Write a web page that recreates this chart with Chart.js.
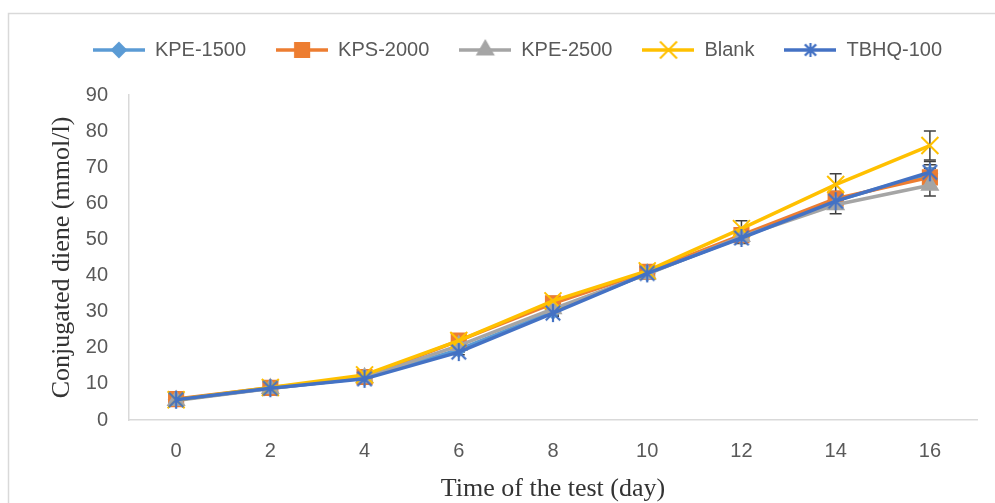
<!DOCTYPE html>
<html>
<head>
<meta charset="utf-8">
<script src="https://cdn.jsdelivr.net/npm/chart.js@4.4.1/dist/chart.umd.min.js"></script>
<style>
    html, body { margin: 0; padding: 0; background: #fff; }
    #wrap { width: 995px; height: 503px; }
</style>
</head>
<body>
<div id="wrap"><canvas id="cd-chart" width="995" height="503"></canvas></div>
<script>
// days of the test
const days = ['0', '2', '4', '6', '8', '10', '12', '14', '16'];

// conjugated diene (mmol/l) per series
const kpe1500 = [5.6, 8.8, 11.6, 19.5, 30.0, 40.6, 50.6, 60.8, 68.2];
const kps2000 = [5.8, 8.9, 11.9, 22.0, 32.3, 41.0, 51.2, 61.3, 67.2];
const kpe2500 = [5.4, 8.7, 11.7, 20.6, 30.8, 40.4, 50.8, 59.6, 65.0];
const blank = [5.6, 9.0, 12.5, 22.0, 33.0, 41.3, 53.0, 65.2, 76.0];
const tbhq100 = [5.6, 8.8, 11.4, 18.8, 29.6, 40.6, 50.4, 60.6, 68.6];

// error bar half-heights
const kpe1500Err = [0.3, 0.4, 0.5, 0.7, 0.9, 1.1, 1.5, 2.0, 2.5];
const kps2000Err = [0.3, 0.4, 0.5, 0.7, 0.9, 1.1, 1.5, 2.0, 2.5];
const kpe2500Err = [0.4, 0.4, 0.5, 0.8, 1.0, 1.2, 1.6, 2.5, 3.0];
const blankErr = [0.4, 0.5, 0.6, 0.8, 1.2, 1.4, 2.2, 3.0, 4.0];
const tbhq100Err = [0.3, 0.4, 0.5, 0.7, 0.9, 1.1, 1.5, 2.0, 3.0];

const yTicks = [0, 10, 20, 30, 40, 50, 60, 70, 80, 90];

const colors = ['#5B9BD5', '#ED7D31', '#A5A5A5', '#FFC000', '#4472C4'];

// excel style star: X plus a vertical arm
function starImage(color, size) {
    const c = document.createElement('canvas');
    c.width = size; c.height = size;
    const g = c.getContext('2d');
    const m = size / 2, r = size / 2 - 1;
    g.strokeStyle = color;
    g.lineWidth = 2.2;
    g.beginPath();
    g.moveTo(m - r * 0.8, m - r * 0.8); g.lineTo(m + r * 0.8, m + r * 0.8);
    g.moveTo(m + r * 0.8, m - r * 0.8); g.lineTo(m - r * 0.8, m + r * 0.8);
    g.moveTo(m, m - r); g.lineTo(m, m + r);
    g.stroke();
    return c;
}

const tbhqStar = starImage(colors[4], 20);

// legend icon: a short line with the marker in the middle
function legendIcon(color, style, radius) {
    const c = document.createElement('canvas');
    c.width = 52; c.height = 22;
    const g = c.getContext('2d');
    g.strokeStyle = color;
    g.fillStyle = color;
    g.lineWidth = 3.5;
    g.beginPath();
    g.moveTo(0, 11); g.lineTo(52, 11);
    g.stroke();
    if (style === 'star') {
        g.drawImage(starImage(color, 16), 18, 3);
    } else {
        g.lineWidth = 2;
        Chart.helpers.drawPoint(g, {pointStyle: style, radius: radius, rotation: 0, borderWidth: 2}, 26, 11);
    }
    return c;
}

const frame = {
    id: 'frame',
    beforeDraw(chart) {
        const ctx = chart.ctx;
        ctx.save();
        ctx.fillStyle = '#ffffff';
        ctx.fillRect(0, 0, chart.width, chart.height);
        ctx.strokeStyle = '#d9d9d9';
        ctx.lineWidth = 1.5;
        ctx.strokeRect(8.5, 13.5, 1000, 600);
        ctx.restore();
    }
};

const legendSpace = {
    id: 'legendSpace',
    beforeInit(chart) {
        const fit = chart.legend.fit;
        chart.legend.fit = function () {
            fit.call(this);
            this.height += 25;
        };
    }
};

const errorBars = {
    id: 'errorBars',
    beforeDatasetsDraw(chart) {
        const ctx = chart.ctx;
        const yScale = chart.scales.y;
        ctx.save();
        ctx.strokeStyle = '#404040';
        ctx.lineWidth = 1.5;
        chart.data.datasets.forEach((ds, i) => {
            const meta = chart.getDatasetMeta(i);
            meta.data.forEach((pt, j) => {
                const e = ds.errors[j];
                const top = yScale.getPixelForValue(ds.data[j] + e);
                const bot = yScale.getPixelForValue(ds.data[j] - e);
                ctx.beginPath();
                ctx.moveTo(pt.x, top); ctx.lineTo(pt.x, bot);
                ctx.moveTo(pt.x - 6, top); ctx.lineTo(pt.x + 6, top);
                ctx.moveTo(pt.x - 6, bot); ctx.lineTo(pt.x + 6, bot);
                ctx.stroke();
            });
        });
        ctx.restore();
    }
};

function series(label, data, errors, color, style, radius, order) {
    return {
        label: label,
        data: data,
        errors: errors,
        borderColor: color,
        backgroundColor: color,
        borderWidth: 3.5,
        pointStyle: style,
        pointRadius: radius,
        pointBorderWidth: 2,
        pointBackgroundColor: color,
        pointBorderColor: color,
        tension: 0,
        order: order,
        icon: legendIcon(color, style === tbhqStar ? 'star' : style, radius)
    };
}

const datasets = [
    series('KPE-1500', kpe1500, kpe1500Err, colors[0], 'rectRot', 7, 5),
    series('KPS-2000', kps2000, kps2000Err, colors[1], 'rect', 10, 4),
    series('KPE-2500', kpe2500, kpe2500Err, colors[2], 'triangle', 9, 3),
    series('Blank', blank, blankErr, colors[3], 'crossRot', 12, 2),
    series('TBHQ-100', tbhq100, tbhq100Err, colors[4], tbhqStar, 10, 1)
];

const tickFont = {family: 'Liberation Sans', size: 20};
const titleFont = {family: 'Liberation Serif', size: 26};

new Chart(document.getElementById('cd-chart'), {
    type: 'line',
    data: {labels: days, datasets: datasets},
    plugins: [frame, legendSpace, errorBars],
    options: {
        responsive: false,
        animation: false,
        devicePixelRatio: 1,
        layout: {padding: {top: 10, left: 58, right: 18, bottom: 0}},
        plugins: {
            tooltip: {enabled: false},
            legend: {
                position: 'top',
                labels: {
                    usePointStyle: true,
                    pointStyleWidth: 52,
                    boxHeight: 20,
                    padding: 30,
                    color: '#595959',
                    font: tickFont,
                    generateLabels(chart) {
                        return chart.data.datasets.map((ds, i) => ({
                            text: ds.label,
                            pointStyle: ds.icon,
                            fillStyle: ds.borderColor,
                            strokeStyle: ds.borderColor,
                            lineWidth: 0,
                            fontColor: '#595959',
                            hidden: false,
                            datasetIndex: i
                        }));
                    }
                }
            }
        },
        scales: {
            x: {
                type: 'category',
                offset: true,
                grid: {display: false, drawTicks: false},
                border: {display: true, color: '#d9d9d9', width: 1.5},
                ticks: {color: '#595959', font: tickFont, padding: 19},
                title: {display: true, text: 'Time of the test (day)', color: '#333333', font: titleFont, padding: {top: 0, bottom: -2}},
                afterFit(scale) { scale.height = 83; }
            },
            y: {
                min: 0,
                max: 90,
                afterBuildTicks(scale) { scale.ticks = yTicks.map(v => ({value: v})); },
                grid: {display: false, drawTicks: false},
                border: {display: true, color: '#d9d9d9', width: 1.5},
                ticks: {color: '#595959', font: tickFont, padding: 21},
                title: {display: true, text: 'Conjugated diene (mmol/l)', color: '#333333', font: titleFont, padding: {top: -11, bottom: 0}},
                afterFit(scale) { scale.width = 71; }
            }
        }
    }
});
</script>
</body>
</html>
